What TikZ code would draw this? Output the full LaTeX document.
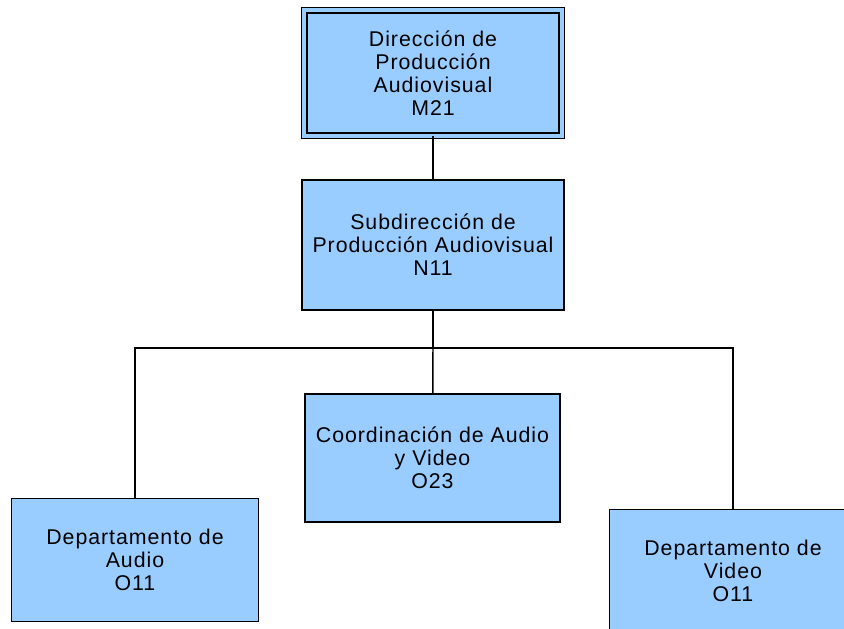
\documentclass[tikz,border=0pt]{standalone}
\usepackage{fontspec}
\setmainfont{Liberation Sans}
\newfontfamily\boxfont[LetterSpace=4.5]{Liberation Sans}
\usetikzlibrary{calc}
\definecolor{boxblue}{HTML}{99CCFF}

\tikzset{
	unit/.style={draw,fill=boxblue,shape=rectangle,align=center,inner sep=0pt,
		font=\boxfont\fontsize{16}{17.25}\selectfont},
}

\begin{document}
\begin{tikzpicture}[line width=1.1pt,x=0.75pt,y=-0.75pt]
			\useasboundingbox (0,0) rectangle (844,629);
			\node [unit,double=boxblue,line width=1.1pt,double distance=2.8pt,minimum width=193pt, minimum height=94pt] (Dir) at (433,73)
				{Dirección de\\ Producción\\ Audiovisual\\ M21};
			\node [unit,minimum width=196.5pt, minimum height=97.5pt] (Sub) at (433,245)
				{Subdirección de\\ Producción Audiovisual\\ N11};
			\node [unit,minimum width=191pt, minimum height=96pt] (Coord) at (432.5,458)
				{Coordinación de Audio\\ y Video\\ O23};
			\node [unit,minimum width=185pt, minimum height=92pt] (Audio) at (135,560)
				{Departamento de\\ Audio\\ O11};
			\node [unit,minimum width=185pt, minimum height=92pt] (Video) at (733,571)
				{Departamento de\\ Video\\ O11};
			\coordinate (Bus) at (433,348);
			\draw (Dir) -- (Sub);
			\draw (Sub) -- (Bus);
			\draw (Bus) -- (Coord);
			\draw (Bus) -| (Audio);
			\draw (Bus) -| (Video);
		\end{tikzpicture}
\end{document}
